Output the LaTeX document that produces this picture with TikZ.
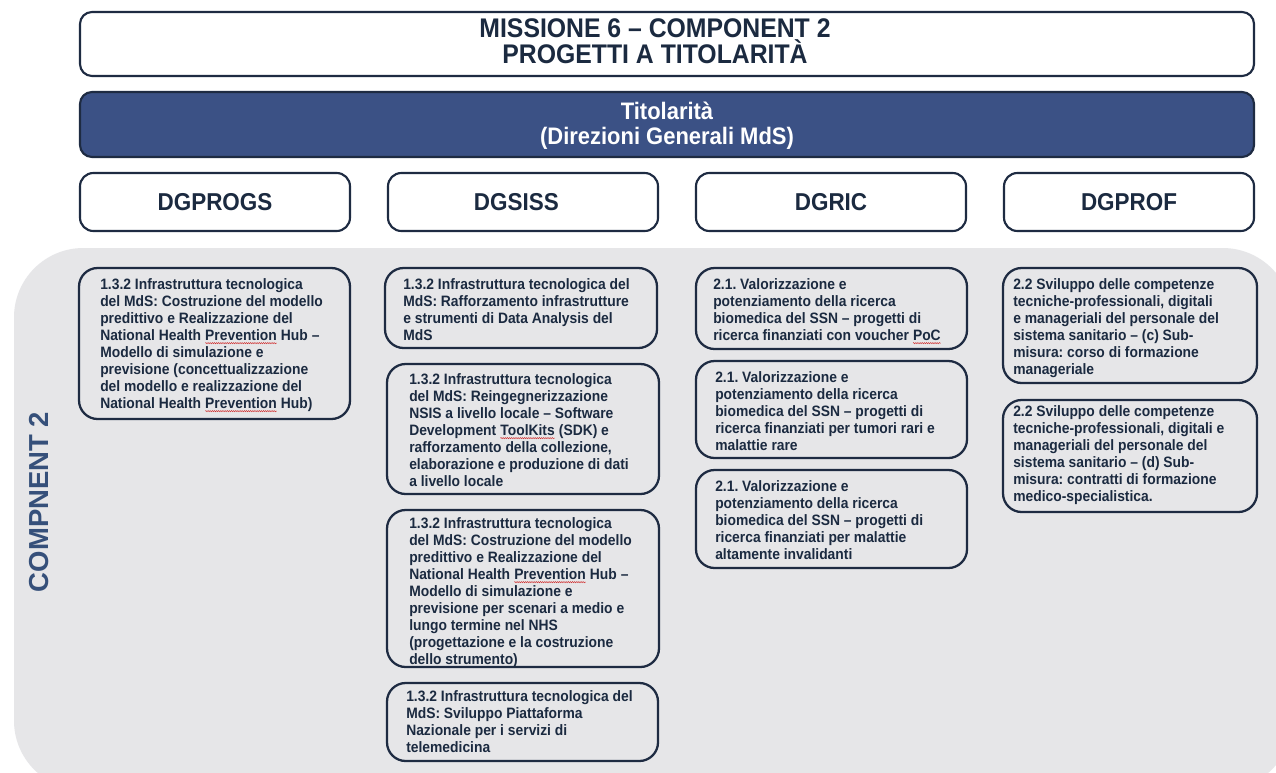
\documentclass[tikz,border=0pt]{standalone}
\usepackage{fontspec}
\setmainfont{Liberation Sans}[FakeStretch=0.92]
\newfontfamily\plainsans{Liberation Sans}
\usetikzlibrary{fit,decorations.pathmorphing}
\definecolor{ink}{HTML}{1B2A40}
\definecolor{edge}{HTML}{1E2B42}
\definecolor{band}{HTML}{3B5185}
\definecolor{bg}{HTML}{E6E6E8}
\definecolor{side}{HTML}{36507A}
\definecolor{spell}{HTML}{D03030}
\newcommand\spellwave[1]{\tikz[baseline=(w.base)]{\node[inner sep=0pt, outer sep=0pt] (w) {#1};
  \draw[spell, line width=0.35pt, decorate, decoration={snake, amplitude=0.45pt, segment length=1.6pt}]
    ([yshift=-2.2pt]w.base west) -- ([yshift=-2.2pt]w.base east);}}
\begin{document}
\frenchspacing
\begin{tikzpicture}[x=0.75pt,y=-0.75pt,
  frame/.style={draw=edge, line width=1.6pt, rounded corners=9pt, fill=white, inner sep=0pt},
  bandbox/.style={draw=edge, line width=1.6pt, rounded corners=9pt, fill=band, inner sep=0pt},
  cell/.style={draw=edge, line width=1.7pt, rounded corners=14pt, inner sep=0pt},
  celltext/.style={anchor=north west, align=left, inner sep=0pt, text=ink,
    font=\fontsize{11.3}{12.75}\selectfont\bfseries},
  dgtext/.style={text=ink, font=\fontsize{18.3}{20}\selectfont\bfseries},
]
\useasboundingbox (0,0) rectangle (1276,772);
\clip (0,0) rectangle (1276,772);
\fill[white] (0,0) rectangle (1276,772);
% grey component area
\fill[bg, rounded corners=52pt] (14,248) rectangle (1292,790);

% title
\node[frame, fit={(80,12)(1254,76)}] (title) {};
\node[align=center, text=ink, font=\fontsize{20.2}{17.8}\selectfont\bfseries] (titletext) at (655,41)
  {MISSIONE 6 – COMPONENT 2\\PROGETTI A TITOLARITÀ};

% band
\node[bandbox, fit={(80,92)(1254,157)}] (band) {};
\node[align=center, text=white, font=\fontsize{17.9}{18.5}\selectfont\bfseries] (bandtext) at (667,126)
  {Titolarità\\(Direzioni Generali MdS)};

% DG boxes
\node[frame, rounded corners=10pt, fit={(80,173)(350,231)}] (dg1) {};
\node[frame, rounded corners=10pt, fit={(388,173)(658,231)}] (dg2) {};
\node[frame, rounded corners=10pt, fit={(696,173)(966,231)}] (dg3) {};
\node[frame, rounded corners=10pt, fit={(1004,173)(1254,231)}] (dg4) {};
\node[dgtext] (dg1t) at (dg1.center) {DGPROGS};
\node[dgtext] (dg2t) at ([xshift=-5pt]dg2.center) {DGSISS};
\node[dgtext] (dg3t) at (dg3.center) {DGRIC};
\node[dgtext] (dg4t) at (dg4.center) {DGPROF};

% side label
\node[rotate=90, text=side, font=\plainsans\fontsize{20.6}{24}\selectfont\bfseries] (side) at (39,502) {COMPNENT 2};

% column 1
\node[cell, fit={(79,268)(350,419)}] (c1a) {};
\node[celltext] (c1at) at (100,278) {1.3.2 Infrastruttura tecnologica\\del MdS: Costruzione del modello\\predittivo e Realizzazione del\\National Health \spellwave{Prevention} Hub –\\Modello di simulazione e\\previsione (concettualizzazione\\del modello e realizzazione del\\National Health \spellwave{Prevention} Hub)};

% column 2
\node[cell, fit={(385,268)(657,348)}] (c2a) {};
\node[celltext] (c2at) at (403,278) {1.3.2 Infrastruttura tecnologica del\\MdS: Rafforzamento infrastrutture\\e strumenti di Data Analysis del\\MdS};
\node[cell, fit={(387,364)(659,494)}] (c2b) {};
\node[celltext] (c2bt) at (409,373) {1.3.2 Infrastruttura tecnologica\\del MdS: Reingegnerizzazione\\NSIS a livello locale – Software\\Development \spellwave{ToolKits} (SDK) e\\rafforzamento della collezione,\\elaborazione e produzione di dati\\a livello locale};
\node[cell, fit={(387,510)(659,667)}] (c2c) {};
\node[celltext] (c2ct) at (409,517) {1.3.2 Infrastruttura tecnologica\\del MdS: Costruzione del modello\\predittivo e Realizzazione del\\National Health \spellwave{Prevention} Hub –\\Modello di simulazione e\\previsione per scenari a medio e\\lungo termine nel NHS\\(progettazione e la costruzione\\dello strumento)};
\node[cell, fit={(387,683)(658,761)}] (c2d) {};
\node[celltext] (c2dt) at (406,690) {1.3.2 Infrastruttura tecnologica del\\MdS: Sviluppo Piattaforma\\Nazionale per i servizi di\\telemedicina};

% column 3
\node[cell, fit={(696,268)(967,349)}] (c3a) {};
\node[celltext] (c3at) at (713,278) {2.1. Valorizzazione e\\potenziamento della ricerca\\biomedica del SSN – progetti di\\ricerca finanziati con voucher \spellwave{PoC}};
\node[cell, fit={(696,361)(967,458)}] (c3b) {};
\node[celltext] (c3bt) at (715,371) {2.1. Valorizzazione e\\potenziamento della ricerca\\biomedica del SSN – progetti di\\ricerca finanziati per tumori rari e\\malattie rare};
\node[cell, fit={(696,470)(967,568)}] (c3c) {};
\node[celltext] (c3ct) at (715,480) {2.1. Valorizzazione e\\potenziamento della ricerca\\biomedica del SSN – progetti di\\ricerca finanziati per malattie\\altamente invalidanti};

% column 4
\node[cell, fit={(1003,268)(1257,383)}] (c4a) {};
\node[celltext] (c4at) at (1013,278) {2.2 Sviluppo delle competenze\\tecniche-professionali, digitali\\e manageriali del personale del\\sistema sanitario – (c) Sub-\\misura: corso di formazione\\manageriale};
\node[cell, fit={(1003,400)(1257,512)}] (c4b) {};
\node[celltext] (c4bt) at (1013,405) {2.2 Sviluppo delle competenze\\tecniche-professionali, digitali e\\manageriali del personale del\\sistema sanitario – (d) Sub-\\misura: contratti di formazione\\medico-specialistica.};
\end{tikzpicture}
\end{document}
